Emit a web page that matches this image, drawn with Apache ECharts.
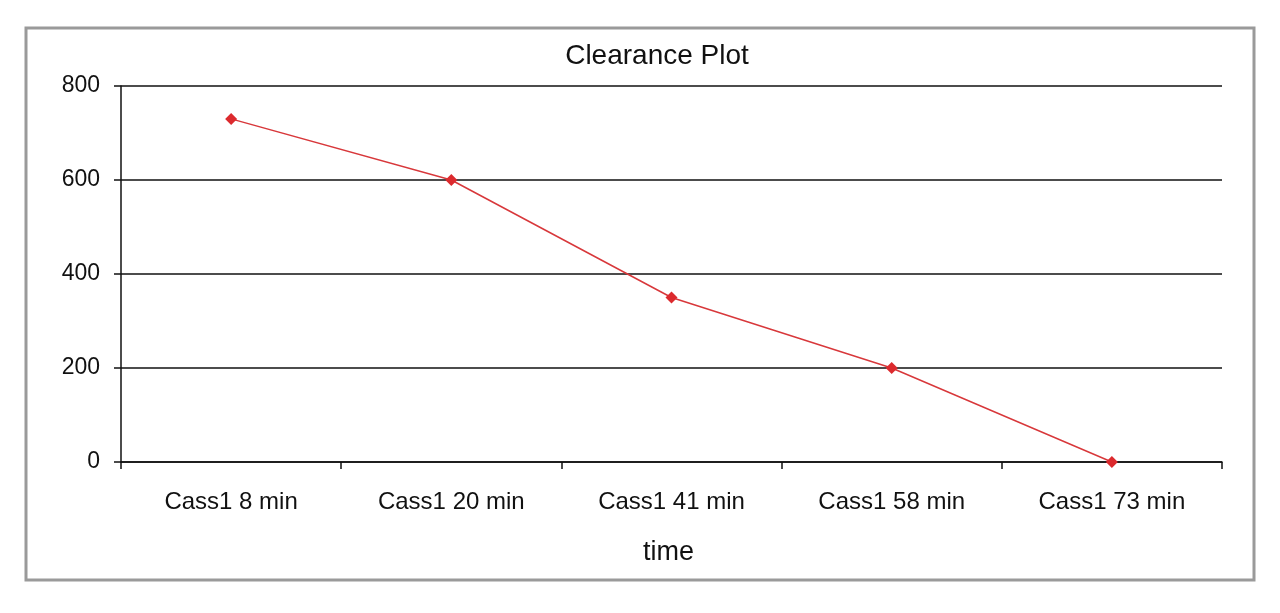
<!DOCTYPE html>
<html>
<head>
<meta charset="utf-8">
<script src="https://cdn.jsdelivr.net/npm/echarts@6/dist/echarts.min.js"></script>
<style>
  html, body { margin: 0; padding: 0; background: #fff; }
  #chart { width: 1280px; height: 613px; }
</style>
</head>
<body>
<div id="chart"></div>
<script>
// data
const categories = ["Cass1 8 min", "Cass1 20 min", "Cass1 41 min", "Cass1 58 min", "Cass1 73 min"];
const clearance = [730, 600, 350, 200, 0];

const chart = echarts.init(document.getElementById("chart"));
const font = "Liberation Sans, Arial, sans-serif";

chart.setOption({
  animation: false,
  backgroundColor: "#fff",
  title: {
    text: "Clearance Plot",
    left: 652,
    top: 37,
    textAlign: "center",
    textStyle: { fontFamily: font, fontSize: 28, fontWeight: "normal", color: "#111" }
  },
  graphic: [{
    type: "rect",
    shape: { x: 26, y: 28, width: 1228, height: 552 },
    style: { fill: "none", stroke: "#9a9a9a", lineWidth: 3 },
    z: -1
  }],
  grid: { left: 121, right: 58, top: 86, bottom: 151, containLabel: false },
  xAxis: {
    type: "category",
    data: categories,
    boundaryGap: true,
    name: "time",
    nameLocation: "middle",
    nameGap: 77,
    nameTextStyle: { fontFamily: font, fontSize: 27, color: "#111", padding: [0, 6, 0, 0] },
    axisLine: { lineStyle: { color: "#111", width: 1.5 } },
    axisTick: { show: true, length: 7, alignWithLabel: false, lineStyle: { color: "#111", width: 1.5 } },
    axisLabel: { fontFamily: font, fontSize: 24, color: "#111", margin: 28 },
    splitLine: { show: false }
  },
  yAxis: {
    type: "value",
    min: 0,
    max: 800,
    interval: 200,
    axisLine: { show: true, lineStyle: { color: "#111", width: 1.5 } },
    axisTick: { show: true, length: 7, lineStyle: { color: "#111", width: 1.5 } },
    axisLabel: { fontFamily: font, fontSize: 23, color: "#111", margin: 21, padding: [6, 0, 0, 0] },
    splitLine: { show: true, lineStyle: { color: "#111", width: 1.5 } }
  },
  series: [{
    type: "line",
    data: clearance,
    symbol: "diamond",
    symbolSize: 12,
    itemStyle: { color: "#dc2a2e" },
    lineStyle: { color: "#d8383b", width: 1.5 }
  }]
});
</script>
</body>
</html>
